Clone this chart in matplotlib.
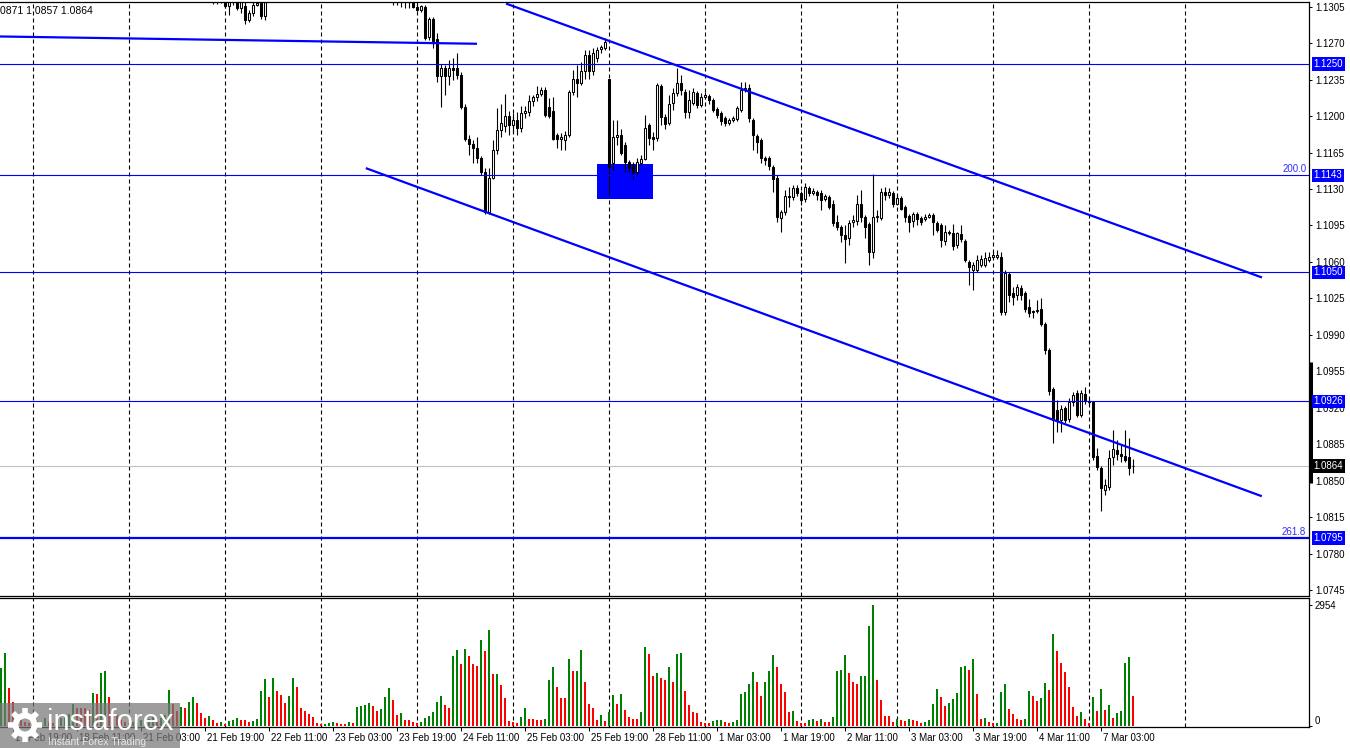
import numpy as np
import matplotlib
matplotlib.use("Agg")
import matplotlib.pyplot as plt
import matplotlib.transforms as mtransforms
from matplotlib.patches import Rectangle, Circle

plt.rcParams['font.family'] = ['Liberation Sans', 'DejaVu Sans']

# EURUSD H1, bar index 0 = 17 Feb 16:00, one bar per hour (weekend skipped)
candle_start = 53
gap = [np.nan] * 31  # bars 67..97 sit above the visible price range

candle_open = [1.1318, 1.1314, 1.1316, 1.1313, 1.1306, 1.1312, 1.1315, 1.1304, 1.1306, 1.1292, 1.1299, 1.1307, 1.1309, 1.1296] + gap + [
    1.1318, 1.1315, 1.1312, 1.1314, 1.1310, 1.1312, 1.1305, 1.1302,
    1.1305, 1.1276, 1.1293, 1.1274, 1.1238, 1.1246, 1.1238, 1.1246, 1.1246, 1.1239, 1.1209, 1.1178, 1.1173, 1.1169, 1.1160, 1.1146, 1.1108, 1.1141, 1.1167, 1.1187, 1.1190, 1.1200,
    1.1191, 1.1196, 1.1189, 1.1203, 1.1204, 1.1214, 1.1218, 1.1221, 1.1225, 1.1209, 1.1205, 1.1182, 1.1178, 1.1177, 1.1182, 1.1223, 1.1236, 1.1232, 1.1243, 1.1259, 1.1243, 1.1256, 1.1264, 1.1265,
    1.1236, 1.1155, 1.1180, 1.1182, 1.1172, 1.1156, 1.1153, 1.1146, 1.1155, 1.1159, 1.1191, 1.1180, 1.1179, 1.1229, 1.1199, 1.1193, 1.1213, 1.1222, 1.1232, 1.1223, 1.1204, 1.1213, 1.1222, 1.1211,
    1.1218, 1.1219, 1.1215, 1.1207, 1.1203, 1.1198, 1.1193, 1.1196, 1.1197, 1.1206, 1.1225, 1.1227, 1.1196, 1.1181, 1.1177, 1.1160, 1.1160, 1.1151, 1.1141, 1.1102, 1.1108, 1.1123, 1.1122, 1.1131,
    1.1126, 1.1120, 1.1131, 1.1126, 1.1127, 1.1126, 1.1120, 1.1122, 1.1116, 1.1098, 1.1093, 1.1086, 1.1083, 1.1098, 1.1099, 1.1116, 1.1103, 1.1096, 1.1069, 1.1103, 1.1102, 1.1127, 1.1124, 1.1126,
    1.1116, 1.1121, 1.1113, 1.1104, 1.1099, 1.1106, 1.1102, 1.1101, 1.1103, 1.1105, 1.1097, 1.1095, 1.1080, 1.1089, 1.1088, 1.1076, 1.1087, 1.1080, 1.1060, 1.1052, 1.1052, 1.1057, 1.1057, 1.1062,
    1.1065, 1.1065, 1.1065, 1.1012, 1.1048, 1.1030, 1.1028, 1.1035, 1.1030, 1.1017, 1.1013, 1.1013, 1.1015, 1.1000, 1.0975, 1.0938, 1.0918, 1.0908, 1.0920, 1.0909, 1.0925, 1.0934, 1.0913, 1.0933,
    1.0926, 1.0925, 1.0874, 1.0862, 1.0841, 1.0844, 1.0873, 1.0879, 1.0876, 1.0874, 1.0873, 1.0864]

candle_high = [1.1325, 1.1322, 1.1320, 1.1318, 1.1316, 1.1320, 1.1316, 1.1312, 1.1312, 1.1302, 1.1310, 1.1314, 1.1312, 1.1318] + gap + [
    1.1325, 1.1320, 1.1318, 1.1318, 1.1316, 1.1315, 1.1310, 1.1307,
    1.1307, 1.1295, 1.1295, 1.1280, 1.1250, 1.1249, 1.1254, 1.1256, 1.1261, 1.1242, 1.1212, 1.1182, 1.1177, 1.1180, 1.1162, 1.1150, 1.1150, 1.1177, 1.1208, 1.1212, 1.1221, 1.1205,
    1.1203, 1.1204, 1.1210, 1.1210, 1.1220, 1.1220, 1.1229, 1.1228, 1.1228, 1.1217, 1.1218, 1.1184, 1.1184, 1.1186, 1.1225, 1.1244, 1.1249, 1.1252, 1.1263, 1.1263, 1.1265, 1.1266, 1.1268, 1.1275,
    1.1236, 1.1196, 1.1196, 1.1188, 1.1175, 1.1158, 1.1156, 1.1160, 1.1163, 1.1201, 1.1193, 1.1185, 1.1232, 1.1231, 1.1202, 1.1220, 1.1227, 1.1246, 1.1239, 1.1226, 1.1225, 1.1227, 1.1224, 1.1222,
    1.1223, 1.1221, 1.1217, 1.1209, 1.1205, 1.1200, 1.1198, 1.1200, 1.1210, 1.1233, 1.1233, 1.1231, 1.1198, 1.1183, 1.1179, 1.1162, 1.1162, 1.1153, 1.1143, 1.1110, 1.1129, 1.1132, 1.1134, 1.1134,
    1.1128, 1.1136, 1.1133, 1.1131, 1.1129, 1.1129, 1.1125, 1.1124, 1.1119, 1.1105, 1.1095, 1.1095, 1.1100, 1.1105, 1.1124, 1.1129, 1.1105, 1.1098, 1.1144, 1.1110, 1.1131, 1.1132, 1.1131, 1.1128,
    1.1124, 1.1123, 1.1115, 1.1106, 1.1108, 1.1108, 1.1104, 1.1106, 1.1107, 1.1107, 1.1099, 1.1097, 1.1095, 1.1091, 1.1096, 1.1089, 1.1095, 1.1082, 1.1062, 1.1060, 1.1067, 1.1067, 1.1069, 1.1069,
    1.1069, 1.1071, 1.1069, 1.1052, 1.1050, 1.1036, 1.1039, 1.1038, 1.1032, 1.1024, 1.1014, 1.1023, 1.1025, 1.1002, 1.0977, 1.0940, 1.0927, 1.0923, 1.0922, 1.0929, 1.0935, 1.0937, 1.0937, 1.0940,
    1.0928, 1.0926, 1.0881, 1.0864, 1.0852, 1.0879, 1.0899, 1.0889, 1.0884, 1.0899, 1.0891, 1.0871]

candle_low = [1.1308, 1.1308, 1.1309, 1.1304, 1.1297, 1.1307, 1.1302, 1.1299, 1.1288, 1.1290, 1.1296, 1.1306, 1.1293, 1.1292] + gap + [
    1.1307, 1.1307, 1.1305, 1.1304, 1.1304, 1.1304, 1.1301, 1.1300,
    1.1273, 1.1273, 1.1265, 1.1233, 1.1209, 1.1220, 1.1230, 1.1235, 1.1236, 1.1207, 1.1176, 1.1163, 1.1155, 1.1155, 1.1143, 1.1106, 1.1106, 1.1140, 1.1164, 1.1180, 1.1185, 1.1182,
    1.1185, 1.1182, 1.1185, 1.1198, 1.1200, 1.1210, 1.1214, 1.1219, 1.1199, 1.1198, 1.1177, 1.1169, 1.1167, 1.1167, 1.1180, 1.1220, 1.1218, 1.1230, 1.1236, 1.1236, 1.1239, 1.1252, 1.1261, 1.1263,
    1.1124, 1.1148, 1.1172, 1.1163, 1.1146, 1.1146, 1.1140, 1.1143, 1.1153, 1.1158, 1.1172, 1.1167, 1.1176, 1.1191, 1.1188, 1.1191, 1.1206, 1.1219, 1.1220, 1.1198, 1.1198, 1.1211, 1.1208, 1.1209,
    1.1216, 1.1212, 1.1204, 1.1198, 1.1191, 1.1190, 1.1191, 1.1194, 1.1195, 1.1204, 1.1223, 1.1194, 1.1167, 1.1165, 1.1155, 1.1153, 1.1148, 1.1127, 1.1098, 1.1089, 1.1105, 1.1113, 1.1119, 1.1123,
    1.1115, 1.1117, 1.1123, 1.1124, 1.1119, 1.1110, 1.1118, 1.1111, 1.1094, 1.1091, 1.1079, 1.1059, 1.1076, 1.1093, 1.1095, 1.1098, 1.1083, 1.1057, 1.1064, 1.1098, 1.1100, 1.1119, 1.1121, 1.1113,
    1.1115, 1.1110, 1.1098, 1.1089, 1.1093, 1.1095, 1.1095, 1.1099, 1.1102, 1.1086, 1.1089, 1.1074, 1.1076, 1.1086, 1.1071, 1.1073, 1.1079, 1.1060, 1.1038, 1.1033, 1.1050, 1.1055, 1.1055, 1.1060,
    1.1064, 1.1063, 1.1009, 1.1009, 1.1021, 1.1019, 1.1023, 1.1023, 1.1012, 1.1007, 1.1006, 1.1011, 1.0998, 1.0972, 1.0932, 1.0886, 1.0897, 1.0897, 1.0905, 1.0906, 1.0922, 1.0911, 1.0911, 1.0924,
    1.0924, 1.0870, 1.0860, 1.0821, 1.0836, 1.0841, 1.0865, 1.0870, 1.0868, 1.0868, 1.0855, 1.0857]

candle_close = [1.1314, 1.1316, 1.1313, 1.1306, 1.1312, 1.1315, 1.1304, 1.1310, 1.1292, 1.1299, 1.1307, 1.1309, 1.1296, 1.1314] + gap + [
    1.1315, 1.1312, 1.1314, 1.1310, 1.1312, 1.1305, 1.1302, 1.1306,
    1.1275, 1.1293, 1.1272, 1.1238, 1.1246, 1.1238, 1.1246, 1.1244, 1.1239, 1.1209, 1.1178, 1.1173, 1.1169, 1.1160, 1.1146, 1.1108, 1.1141, 1.1167, 1.1187, 1.1193, 1.1200, 1.1191,
    1.1196, 1.1189, 1.1203, 1.1205, 1.1214, 1.1218, 1.1221, 1.1225, 1.1201, 1.1200, 1.1178, 1.1178, 1.1180, 1.1182, 1.1223, 1.1236, 1.1232, 1.1243, 1.1259, 1.1243, 1.1261, 1.1263, 1.1266, 1.1271,
    1.1151, 1.1180, 1.1182, 1.1165, 1.1156, 1.1150, 1.1145, 1.1156, 1.1159, 1.1189, 1.1179, 1.1178, 1.1230, 1.1199, 1.1192, 1.1212, 1.1222, 1.1232, 1.1225, 1.1204, 1.1215, 1.1223, 1.1211, 1.1218,
    1.1220, 1.1215, 1.1206, 1.1201, 1.1195, 1.1193, 1.1196, 1.1198, 1.1208, 1.1225, 1.1227, 1.1198, 1.1182, 1.1175, 1.1160, 1.1158, 1.1152, 1.1140, 1.1103, 1.1108, 1.1123, 1.1122, 1.1131, 1.1126,
    1.1119, 1.1132, 1.1126, 1.1128, 1.1124, 1.1119, 1.1123, 1.1113, 1.1097, 1.1093, 1.1086, 1.1082, 1.1097, 1.1100, 1.1116, 1.1103, 1.1093, 1.1069, 1.1103, 1.1104, 1.1127, 1.1124, 1.1127, 1.1116,
    1.1121, 1.1111, 1.1103, 1.1098, 1.1106, 1.1101, 1.1098, 1.1103, 1.1105, 1.1098, 1.1091, 1.1081, 1.1089, 1.1088, 1.1075, 1.1088, 1.1082, 1.1062, 1.1055, 1.1057, 1.1062, 1.1063, 1.1064, 1.1065,
    1.1067, 1.1067, 1.1012, 1.1049, 1.1028, 1.1026, 1.1036, 1.1028, 1.1015, 1.1011, 1.1012, 1.1014, 1.1000, 1.0975, 1.0936, 1.0908, 1.0908, 1.0919, 1.0908, 1.0925, 1.0932, 1.0913, 1.0934, 1.0926,
    1.0925, 1.0873, 1.0863, 1.0843, 1.0846, 1.0872, 1.0880, 1.0876, 1.0874, 1.0870, 1.0862, 1.0864]

# tick volumes, bar 0 .. 283
volume = [1410, 1790, 920, 590, 230, 150, 110, 80,
          110, 130, 80, 200, 110, 80, 130, 190, 230, 290, 530, 450, 440, 430, 390, 810, 780, 1300, 1340, 720, 390, 270, 150, 110,
          70, 100, 80, 150, 110, 160, 230, 130, 190, 270, 880, 540, 370, 460, 450, 580, 700, 550, 310, 190, 240, 150, 80, 100,
          50, 120, 150, 200, 150, 140, 110, 130, 170, 850, 1150, 720, 1160, 860, 760, 560, 730, 1170, 950, 450, 370, 290, 220, 70,
          50, 60, 80, 100, 70, 60, 50, 100, 80, 470, 490, 510, 560, 500, 370, 410, 710, 930, 640, 270, 320, 150, 140, 100,
          80, 90, 200, 240, 340, 590, 730, 510, 430, 1720, 1850, 1510, 1880, 1710, 1510, 1460, 2100, 1830, 2340, 1270, 1280, 1000, 690, 120,
          100, 80, 220, 440, 170, 160, 150, 145, 170, 1120, 1440, 950, 690, 680, 1630, 1330, 1340, 1850, 1080, 540, 450, 150, 270, 130,
          340, 760, 540, 780, 390, 230, 180, 170, 340, 1930, 1760, 1220, 1290, 1170, 1120, 1440, 1070, 1760, 1790, 850, 510, 340, 310, 110,
          70, 65, 120, 150, 155, 110, 80, 105, 155, 780, 830, 1020, 1320, 1070, 730, 1070, 1340, 1730, 1440, 1020, 830, 340, 365, 120,
          80, 75, 145, 180, 120, 180, 100, 90, 220, 1340, 1370, 1730, 1290, 1070, 1020, 1220, 1230, 2440, 2950, 1120, 640, 240, 235, 105,
          170, 145, 120, 170, 155, 120, 80, 100, 145, 540, 900, 710, 490, 560, 660, 800, 1440, 1460, 1370, 1630, 780, 170, 195, 100,
          65, 80, 830, 1020, 415, 290, 170, 145, 170, 850, 730, 610, 680, 1050, 880, 2240, 1830, 1540, 1320, 950, 460, 240, 340, 170,
          80, 710, 365, 900, 390, 510, 195, 320, 365, 1540, 1680, 730]

# midnight bars (vertical grid) and time labels
day_starts = [8, 32, 56, 80, 104, 128, 152, 176, 200, 224, 248, 272, 296]
time_ticks = [3, 19, 35, 51, 67, 83, 99, 115, 131, 147, 163, 179, 195, 211, 227, 243, 259, 275]
time_labels = ['17 Feb 19:00', '18 Feb 11:00', '21 Feb 03:00', '21 Feb 19:00', '22 Feb 11:00',
               '23 Feb 03:00', '23 Feb 19:00', '24 Feb 11:00', '25 Feb 03:00', '25 Feb 19:00',
               '28 Feb 11:00', '1 Mar 03:00', '1 Mar 19:00', '2 Mar 11:00', '3 Mar 03:00',
               '3 Mar 19:00', '4 Mar 11:00', '7 Mar 03:00']

levels = [1.1250, 1.1143, 1.1050, 1.0926, 1.0795]
fibo_labels = {1.1143: '200.0', 1.0795: '261.8'}
bid = 1.0864
price_ticks = [1.1305, 1.1270, 1.1235, 1.1200, 1.1165, 1.1130, 1.1095, 1.1060, 1.1025,
               1.0990, 1.0955, 1.0920, 1.0885, 1.0850, 1.0815, 1.0780, 1.0745]
channel_upper = ([126.25, 315.25], [1.1308, 1.1045])
channel_lower = ([91.2, 315.2], [1.1150, 1.0835])
avg_line = ([-0.25, 119.0], [1.12764, 1.12694])
zone_k = (149.1, 162.9)
zone_p = (1.1120, 1.1154)
axis_marker = (1.0848, 1.0964)
vol_max = 2954

BLUE = '#0000ff'
W, H = 1350, 748


def fx(px):
    return px / W


def fy(py):
    return 1 - py / H


fig = plt.figure(figsize=(13.5, 7.48), dpi=100)
fig.patch.set_facecolor('white')
ax = fig.add_axes([0, fy(596), fx(1309), fy(2) - fy(596)])
axv = fig.add_axes([0, fy(727), fx(1309), fy(598) - fy(727)])

for a in (ax, axv):
    a.set_xlim(-0.25, 327)
    a.spines['left'].set_visible(False)
    for s in ('top', 'right', 'bottom'):
        a.spines[s].set_linewidth(0.9)
    for d in day_starts:
        a.axvline(d, color='black', lw=0.8, dashes=(3.6, 2.7), zorder=0.5)

ax.set_ylim(1.07392, 1.13095)

# candles
o = np.array(candle_open)
hi = np.array(candle_high)
lo = np.array(candle_low)
c = np.array(candle_close)
kk = np.arange(candle_start, candle_start + len(c))
ok = ~np.isnan(c)
kk, o, hi, lo, c = kk[ok], o[ok], hi[ok], lo[ok], c[ok]
up = c >= o
ax.vlines(kk, lo, hi, color='black', lw=0.8, zorder=2)
ax.bar(kk[up], c[up] - o[up], bottom=o[up], width=0.55, facecolor='white',
       edgecolor='black', lw=0.75, zorder=2.5)
ax.bar(kk[~up], o[~up] - c[~up], bottom=c[~up], width=0.55, facecolor='black',
       edgecolor='black', lw=0.75, zorder=2.5)

# objects
ax.add_patch(Rectangle((zone_k[0], zone_p[0]), zone_k[1] - zone_k[0], zone_p[1] - zone_p[0],
                       facecolor=BLUE, edgecolor='none', zorder=1))
ax.axhline(bid, color='#c0c0c0', lw=0.8, zorder=1.5)
for lv in levels:
    ax.axhline(lv, color=BLUE, lw=1.6 if lv == 1.0795 else 0.8, zorder=3)
ax.plot(*channel_upper, color=BLUE, lw=1.6, zorder=3, solid_capstyle='butt')
ax.plot(*channel_lower, color=BLUE, lw=1.6, zorder=3, solid_capstyle='butt')
ax.plot(*avg_line, color=BLUE, lw=1.6, zorder=3, solid_capstyle='butt')

for lv, txt in fibo_labels.items():
    ax.text(326.3, lv + 0.00012, txt, ha='right', va='bottom', fontsize=7, color='#3030ff', zorder=4)

# right price scale
ax.yaxis.tick_right()
ax.set_yticks(price_ticks)
ax.set_yticklabels([f'{t:.4f}' for t in price_ticks])
ax.tick_params(axis='y', direction='out', length=2.5, width=0.7, pad=1.8, labelsize=7)
ax.tick_params(axis='x', bottom=False, labelbottom=False)

trans = mtransforms.blended_transform_factory(ax.transAxes, ax.transData)
for lv in levels + [bid]:
    fc = 'black' if lv == bid else BLUE
    ax.text(1.0036, lv, f'{lv:.4f}', transform=trans, ha='left', va='center', fontsize=7,
            color='white', zorder=5, clip_on=False,
            bbox=dict(boxstyle='square,pad=0.18', fc=fc, ec='none'))
ax.plot([1.0016, 1.0016], axis_marker, transform=trans, color='black', lw=2.2, clip_on=False,
        solid_capstyle='butt')

ax.text(0.0, 1.13114 - 0.000096 * 11, '0871 1.0857 1.0864', fontsize=7.5, ha='left', va='center',
        transform=trans, zorder=5)

# volumes
vol = np.array(volume)
kv = np.arange(len(vol))
vcol = ['#008000' if i == 0 or vol[i] > vol[i - 1] else '#ff0000' for i in range(len(vol))]
axv.bar(kv, vol, width=0.65, color=vcol, lw=0, zorder=2)
axv.set_ylim(-24, 3123)
axv.yaxis.tick_right()
axv.set_yticks([0, vol_max])
axv.set_yticklabels(['0', str(vol_max)])
axv.get_yticklabels()[0].set_va('bottom')
axv.tick_params(axis='y', direction='out', length=2.5, width=0.7, pad=1.8, labelsize=7)

axv.set_xticks(time_ticks)
axv.set_xticklabels(time_labels)
axv.tick_params(axis='x', direction='out', length=3, width=0.7, pad=1.5, labelsize=7)
shift = mtransforms.ScaledTranslation(2 / 100, 0, fig.dpi_scale_trans)
for lbl in axv.get_xticklabels():
    lbl.set_ha('left')
    lbl.set_transform(lbl.get_transform() + shift)

# watermark
axl = fig.add_axes([0, 0, fx(180), 45 / H])
axl.set_xlim(0, 180)
axl.set_ylim(45, 0)
axl.set_facecolor((0.47, 0.47, 0.47, 0.72))
for s in axl.spines.values():
    s.set_visible(False)
axl.set_xticks([])
axl.set_yticks([])
axl.add_patch(Circle((25, 22), 9.5, fill=False, ec='white', lw=4.2))
for ang in np.arange(0, 360, 45):
    r = np.deg2rad(ang)
    axl.plot([25 + 11 * np.cos(r), 25 + 17 * np.cos(r)], [22 + 11 * np.sin(r), 22 + 17 * np.sin(r)],
             color='white', lw=4, solid_capstyle='butt')
axl.text(47, 19, 'instaforex', color='white', fontsize=21, ha='left', va='center')
axl.text(48, 39, 'Instant Forex Trading', color='#e6e6e6', fontsize=7.5, ha='left', va='center')

fig.savefig('out.png', dpi=100)
